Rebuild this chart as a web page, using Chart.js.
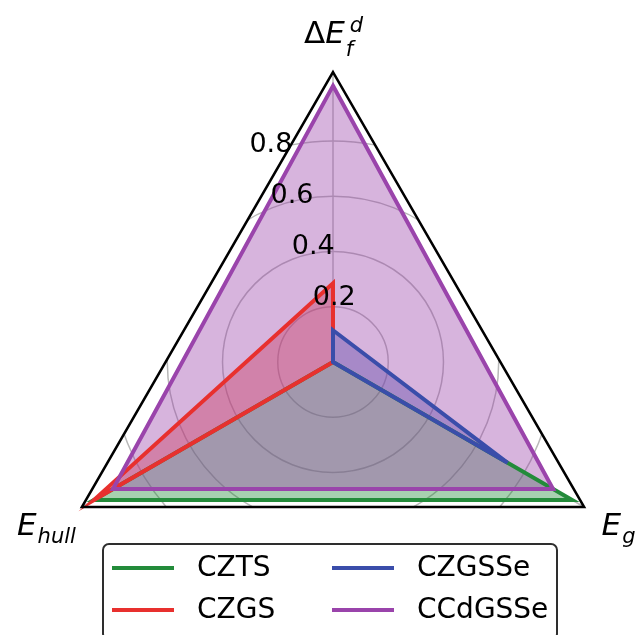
<!DOCTYPE html>
<html>
<head>
<meta charset="utf-8">
<script src="https://cdn.jsdelivr.net/npm/chart.js@4.4.1/dist/chart.umd.min.js"></script>
<style>
  html, body { margin: 0; padding: 0; background: #fff; overflow: hidden; }
  #wrap { position: relative; width: 638px; height: 720px; }
</style>
</head>
<body>
<div id="wrap"><canvas id="radar" width="638" height="720"></canvas></div>
<script>
// axes (clockwise from the top), written as main_sub^sup
const categories = ['ΔE_f^d', 'E_g', 'E_hull'];
const seriesNames = ['CZTS', 'CZGS', 'CZGSSe', 'CCdGSSe'];
const czts = [0.0, 1.0, 1.0];
const czgs = [0.285, 0.0, 1.0];
const czgsse = [0.115, 0.73, 0.0];
const ccdgsse = [1.0, 0.92, 0.92];
const tickValues = [0.2, 0.4, 0.6, 0.8];
const tickLabels = ['0.2', '0.4', '0.6', '0.8'];
const radialMax = 1.05;

const lineColors = ['#238b3a', '#e8302e', '#3a4daa', '#9a44ab'];
const fillAlpha = 0.4;

function hexToRgba(hex, a) {
    const n = parseInt(hex.slice(1), 16);
    return `rgba(${(n >> 16) & 255}, ${(n >> 8) & 255}, ${n & 255}, ${a})`;
}

const FONT = '"DejaVu Sans", sans-serif';

// triangle frame through the outer ends of the axes
function framePath(ctx, r) {
    const d = r.getDistanceFromCenterForValue(r.max);
    ctx.beginPath();
    categories.forEach((c, i) => {
        const p = r.getPointPosition(i, d);
        if (i === 0) ctx.moveTo(p.x, p.y); else ctx.lineTo(p.x, p.y);
    });
    ctx.closePath();
}

// mathtext-like label: Greek upright, latin italic, sub / superscript smaller
function drawMath(ctx, label, cx, baseY) {
    const m = label.match(/^([^_^]+)(?:_([^_^]+))?(?:\^(.+))?$/);
    const main = m[1], sub = m[2] || '', sup = m[3] || '';
    const big = 31, small = 21;
    const fontFor = (ch, px) => (/[\u0370-\u03ff]/.test(ch) ? '' : 'italic ') + px + 'px ' + FONT;

    let mainW = 0;
    for (const ch of main) { ctx.font = fontFor(ch, big); mainW += ctx.measureText(ch).width; }
    ctx.font = fontFor('a', small);
    const subW = ctx.measureText(sub).width;
    const supW = sup ? ctx.measureText(sup).width + 4 : 0;
    const total = mainW + Math.max(subW, supW);

    let x = cx - total / 2;
    ctx.textAlign = 'left';
    ctx.textBaseline = 'alphabetic';
    ctx.fillStyle = '#000';
    for (const ch of main) {
        ctx.font = fontFor(ch, big);
        ctx.fillText(ch, x, baseY);
        x += ctx.measureText(ch).width;
    }
    ctx.font = fontFor('a', small);
    if (sub) ctx.fillText(sub, x + 1, baseY + (sup ? 13 : 8));
    if (sup) ctx.fillText(sup, x + 5, baseY - 11);
}

const radarDecor = {
    id: 'radarDecor',
    beforeDraw(chart) {
        const r = chart.scales.r;
        const ctx = chart.ctx;
        // circular grid, clipped to the triangle frame
        ctx.save();
        framePath(ctx, r);
        ctx.clip();
        ctx.strokeStyle = '#b8b8b8';
        ctx.lineWidth = 1.5;
        tickValues.forEach(v => {
            ctx.beginPath();
            ctx.arc(r.xCenter, r.yCenter, r.getDistanceFromCenterForValue(v), 0, Math.PI * 2);
            ctx.stroke();
        });
        ctx.restore();
    },
    afterDatasetsDraw(chart) {
        const r = chart.scales.r;
        const ctx = chart.ctx;
        ctx.save();

        // frame
        framePath(ctx, r);
        ctx.strokeStyle = '#000';
        ctx.lineWidth = 2.5;
        ctx.lineJoin = 'miter';
        ctx.stroke();

        // radial tick labels, 22.5 deg left of the top axis
        const ang = 22.5 * Math.PI / 180;
        ctx.font = '27px ' + FONT;
        ctx.fillStyle = '#000';
        ctx.textAlign = 'left';
        ctx.textBaseline = 'alphabetic';
        tickValues.forEach((v, i) => {
            const d = r.getDistanceFromCenterForValue(v);
            const x = r.xCenter - d * Math.sin(ang);
            const y = r.yCenter - d * Math.cos(ang);
            ctx.fillText(tickLabels[i], x + 1, y - 6);
        });

        // axis labels outside the vertices
        const dMax = r.getDistanceFromCenterForValue(r.max);
        categories.forEach((lab, i) => {
            const p = r.getPointPosition(i, dMax + 38);
            const dx = i === 0 ? 0 : (p.x < r.xCenter ? -3 : 1);
            drawMath(ctx, lab, p.x + dx, p.y + 9);
        });

        // legend, two columns
        const box = { x: 103, y: 544, w: 454, h: 96, rad: 6 };
        ctx.beginPath();
        ctx.roundRect(box.x, box.y, box.w, box.h, box.rad);
        ctx.fillStyle = '#fff';
        ctx.fill();
        ctx.strokeStyle = '#2e2e2e';
        ctx.lineWidth = 2;
        ctx.stroke();

        const colX = [112, 332];
        const rowY = [568, 610];
        ctx.font = '28px ' + FONT;
        ctx.textBaseline = 'middle';
        chart.data.datasets.forEach((ds, i) => {
            const cx = colX[Math.floor(i / 2)];
            const cy = rowY[i % 2];
            ctx.beginPath();
            ctx.moveTo(cx, cy);
            ctx.lineTo(cx + 62, cy);
            ctx.strokeStyle = ds.borderColor;
            ctx.lineWidth = 4;
            ctx.stroke();
            ctx.fillStyle = '#000';
            ctx.fillText(ds.label, cx + 85, cy + 1);
        });

        ctx.restore();
    }
};

const seriesValues = [czts, czgs, czgsse, ccdgsse];

const datasets = seriesNames.map((name, i) => ({
    label: name,
    data: seriesValues[i],
    borderColor: lineColors[i],
    backgroundColor: hexToRgba(lineColors[i], fillAlpha),
    fill: true,
    order: seriesNames.length - i // later series drawn on top
}));

new Chart(document.getElementById('radar').getContext('2d'), {
    type: 'radar',
    data: { labels: categories, datasets: datasets },
    options: {
        responsive: false,
        animation: false,
        devicePixelRatio: 1,
        layout: { padding: { left: 43, right: 15, top: 72, bottom: 68 } },
        plugins: {
            legend: { display: false },
            tooltip: { enabled: false },
            filler: { drawTime: 'beforeDatasetsDraw' } // all fills under all lines
        },
        elements: {
            line: { tension: 0, borderWidth: 4, borderJoinStyle: 'miter' },
            point: { radius: 0, hoverRadius: 0 }
        },
        scales: {
            r: {
                min: 0,
                max: radialMax,
                ticks: { display: false, stepSize: 0.2 },
                grid: { display: false },
                angleLines: { display: true, color: '#b8b8b8', lineWidth: 1.5 },
                pointLabels: { display: false }
            }
        }
    },
    plugins: [radarDecor]
});
</script>
</body>
</html>
